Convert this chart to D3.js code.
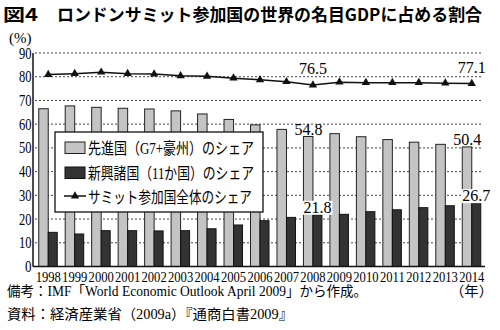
<!DOCTYPE html>
<html><head><meta charset="utf-8">
<script src="https://cdn.jsdelivr.net/npm/d3@7"></script>
<style>
body{margin:0;background:#fff;}
svg{display:block;}
</style></head>
<body>
<svg id="chart" width="500" height="330"></svg>
<script>
const years = ["1998","1999","2000","2001","2002","2003","2004","2005","2006","2007","2008","2009","2010","2011","2012","2013","2014"];
const advanced = [66.5,67.7,67.1,66.7,66.4,65.6,64.3,62.0,59.7,57.8,54.8,56.0,54.7,53.5,52.4,51.5,50.4];
const emerging = [14.4,13.7,15.1,15.1,15.0,15.1,15.9,17.5,19.3,20.7,21.8,22.0,23.1,23.9,24.8,25.6,26.7];
const summit = [80.9,81.3,81.9,81.3,81.1,80.4,80.2,79.4,78.7,77.9,76.5,77.7,77.5,77.5,77.5,77.3,77.1];
const yTicks = [0,10,20,30,40,50,60,70,80,90];
const seriesNames = ["先進国（G7+豪州）のシェア","新興諸国（11か国）のシェア","サミット参加国全体のシェア"];
const titleFig = "図4";
const titleText = "ロンドンサミット参加国の世界の名目GDPに占める割合";
const yUnit = "(%)";
const xUnit = "（年）";
const note1 = "備考：IMF「World Economic Outlook April 2009」から作成。";
const note2 = "資料：経済産業省（2009a）『通商白書2009』";
// labelled points: [series, yearIndex]
const barLabels = [["adv",10],["adv",16],["emg",10],["emg",16]];
const lineLabels = [10,16];

const SERIF = "'Liberation Serif','Noto Sans CJK JP',serif";
const svg = d3.select("#chart");
const x = d3.scaleBand().domain(years).range([35,485]).paddingInner(0).paddingOuter(0);
const y = d3.scaleLinear().domain([0,90]).range([266.5,53]);
const cx = d => x(d) + x.bandwidth()/2;

// title
svg.append("text").attr("x",3).attr("y",21).attr("font-family","'Noto Sans CJK JP',sans-serif")
  .attr("font-weight","bold").attr("font-size",17).attr("textLength",35).attr("lengthAdjust","spacingAndGlyphs").text(titleFig);
svg.append("text").attr("x",57).attr("y",21).attr("font-family","'Noto Sans CJK JP',sans-serif")
  .attr("font-weight","bold").attr("font-size",17).attr("textLength",425).attr("lengthAdjust","spacingAndGlyphs").text(titleText);

// unit
svg.append("text").attr("x",9).attr("y",43).attr("font-family",SERIF).attr("font-size",15).text(yUnit);

// gridlines
svg.append("g").selectAll("line").data(yTicks.filter(t=>t>0)).join("line")
  .attr("x1",35).attr("x2",483).attr("y1",d=>y(d)).attr("y2",d=>y(d))
  .attr("stroke","#444").attr("stroke-width",1).attr("stroke-dasharray","2,2");

// y tick labels
svg.append("g").selectAll("text").data(yTicks).join("text")
  .attr("x",31.5).attr("y",d=>y(d)+5.5).attr("text-anchor","end")
  .attr("font-family",SERIF).attr("font-size",16)
  .attr("textLength",d=>d===0?6.5:12.5).attr("lengthAdjust","spacingAndGlyphs").text(d=>d);

// bars
svg.append("g").selectAll("rect").data(years).join("rect")
  .attr("x",d=>cx(d)-9.5).attr("width",9.5)
  .attr("y",(d,i)=>y(advanced[i])).attr("height",(d,i)=>y(0)-y(advanced[i]))
  .attr("fill","#c4c4c4").attr("stroke","#222").attr("stroke-width",1);
svg.append("g").selectAll("rect").data(years).join("rect")
  .attr("x",d=>cx(d)).attr("width",9)
  .attr("y",(d,i)=>y(emerging[i])).attr("height",(d,i)=>y(0)-y(emerging[i]))
  .attr("fill","#333").attr("stroke","#111").attr("stroke-width",1);

// axes lines
svg.append("line").attr("x1",33).attr("x2",33).attr("y1",53).attr("y2",y(0)).attr("stroke","#111").attr("stroke-width",1.5);
svg.append("line").attr("x1",33).attr("x2",485).attr("y1",y(0)).attr("y2",y(0)).attr("stroke","#111").attr("stroke-width",1.5);

// x labels (condensed via vertical stretch of a smaller font)
svg.append("g").selectAll("text").data(years).join("text")
  .attr("transform",d=>`translate(${cx(d)},281.5) scale(1,1.2)`)
  .attr("x",0).attr("y",0).attr("text-anchor","middle")
  .attr("font-family",SERIF).attr("font-size",12.6).text(d=>d);

// line
const tri = d3.symbol().type(d3.symbolTriangle).size(30);
svg.append("path").datum(summit)
  .attr("d",d3.line().x((d,i)=>cx(years[i])).y(d=>y(d)))
  .attr("fill","none").attr("stroke","#111").attr("stroke-width",1.5);
svg.append("g").selectAll("path").data(summit).join("path")
  .attr("d",tri).attr("transform",(d,i)=>`translate(${cx(years[i])},${y(d)})`).attr("fill","#111");

// legend
const lg = svg.append("g");
lg.append("rect").attr("x",55).attr("y",132).attr("width",208).attr("height",80)
  .attr("fill","#fff").attr("stroke","#111").attr("stroke-width",1.3);
lg.append("rect").attr("x",65).attr("y",142).attr("width",20).attr("height",11.5).attr("fill","#c4c4c4").attr("stroke","#222");
lg.append("rect").attr("x",65).attr("y",167).attr("width",20).attr("height",11.5).attr("fill","#333").attr("stroke","#111");
lg.append("line").attr("x1",64).attr("x2",86).attr("y1",196).attr("y2",196).attr("stroke","#111").attr("stroke-width",1.5);
lg.append("path").attr("d",tri).attr("transform","translate(75,196)").attr("fill","#111");
const lgY = [154,178.5,203];
lg.selectAll("text.l").data(seriesNames).join("text").attr("class","l")
  .attr("x",88).attr("y",(d,i)=>lgY[i]).attr("font-family",SERIF).attr("font-size",16)
  .attr("textLength",(d,i)=>i===2?164:166).attr("lengthAdjust","spacingAndGlyphs").text(d=>d);

// value labels
const labG = svg.append("g");
function addLabel(txt, px, py, bg){
  const g = labG.append("g");
  const t = g.append("text").attr("x",px).attr("y",py).attr("text-anchor","middle")
    .attr("font-family",SERIF).attr("font-size",16).text(txt);
  if(bg){
    const b = t.node().getBBox();
    g.insert("rect","text").attr("x",b.x-1).attr("y",b.y+2).attr("width",b.width+2).attr("height",b.height-3).attr("fill","#fff");
  }
}
barLabels.forEach(([s,i])=>{
  if(s==="adv") addLabel(advanced[i].toFixed(1), cx(years[i])-4.5, y(advanced[i])-2, false);
  else addLabel(emerging[i].toFixed(1), cx(years[i])+4.5, y(emerging[i])-2, true);
});
lineLabels.forEach(i=>addLabel(summit[i].toFixed(1), cx(years[i]), y(summit[i])-11, false));

// notes
svg.append("text").attr("x",7).attr("y",296).attr("font-family",SERIF).attr("font-size",14)
  .attr("textLength",360).attr("lengthAdjust","spacingAndGlyphs").text(note1);
svg.append("text").attr("x",450).attr("y",296).attr("font-family",SERIF).attr("font-size",14)
  .attr("textLength",43).attr("lengthAdjust","spacingAndGlyphs").text(xUnit);
svg.append("text").attr("x",7).attr("y",319).attr("font-family",SERIF).attr("font-size",14)
  .attr("textLength",286).attr("lengthAdjust","spacingAndGlyphs").text(note2);
</script>
</body></html>
